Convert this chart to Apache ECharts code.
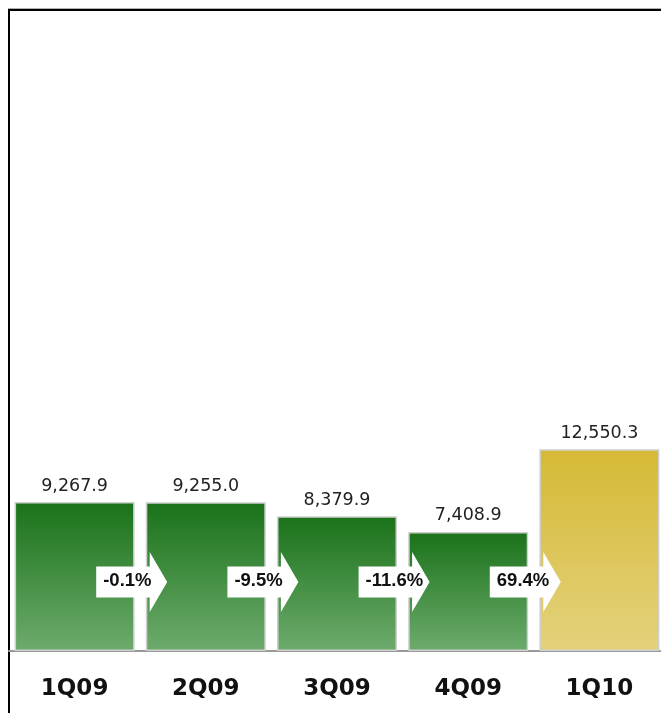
<!DOCTYPE html>
<html>
<head>
<meta charset="utf-8">
<script src="https://cdn.jsdelivr.net/npm/echarts@6/dist/echarts.min.js"></script>
<style>
  html, body { margin: 0; padding: 0; background: #fff; overflow: hidden; }
  .frame {
    position: absolute;
    left: 8px;
    top: 9px;
    width: 661px;
    height: 720px;
    border-left: 2px solid #000;
    border-top: 2px solid #000;
    box-shadow: 0 -1px 0 #b0b0b0;
  }
  #chart {
    position: absolute;
    left: 0;
    top: 0;
    width: 670px;
    height: 713px;
  }
</style>
</head>
<body>
<div class="frame"></div>
<div id="chart"></div>
<script>
// quarters
const categories = ["1Q09", "2Q09", "3Q09", "4Q09", "1Q10"];
// revenue per quarter
const values = [9267.9, 9255.0, 8379.9, 7408.9, 12550.3];
// quarter-over-quarter change, %
const changes = [-0.1, -9.5, -11.6, 69.4];

const GREEN = new echarts.graphic.LinearGradient(0, 0, 0, 1, [
  { offset: 0, color: "#1a7219" },
  { offset: 1, color: "#6dab6d" },
]);
const GOLD = new echarts.graphic.LinearGradient(0, 0, 0, 1, [
  { offset: 0, color: "#d6b935" },
  { offset: 1, color: "#e3d27c" },
]);

function fmt(v) {
  let parts = v.toFixed(1).split(".");
  parts[0] = parts[0].replace(/\B(?=(\d{3})+(?!\d))/g, ",");
  return parts.join(".");
}

const ARROW_LEVEL = 4300; // vertical placement of the change arrows

const myChart = echarts.init(document.getElementById("chart"));

const option = {
  animation: false,
  grid: {
    left: 9,
    right: 5,
    top: 8,
    bottom: 62,
    outerBoundsMode: "none",
  },
  xAxis: {
    type: "category",
    data: categories,
    axisLine: { lineStyle: { color: "#999", width: 2 } },
    axisTick: { show: false },
    axisLabel: {
      margin: 27,
      fontFamily: "DejaVu Sans",
      fontWeight: "bold",
      fontSize: 23,
      color: "#111",
    },
  },
  yAxis: {
    type: "value",
    min: 0,
    max: 40000,
    show: false,
    splitLine: { show: false },
  },
  series: [
    {
      type: "bar",
      barWidth: 120,
      data: values.map((v, i) => ({
        value: v,
        itemStyle: { color: i === values.length - 1 ? GOLD : GREEN },
      })),
      itemStyle: {
        borderColor: "#cfcfcf",
        borderWidth: 1.5,
      },
      label: {
        show: true,
        position: "top",
        distance: 7,
        fontFamily: "DejaVu Sans",
        fontSize: 17.5,
        color: "#222",
        formatter: (p) => fmt(p.value),
      },
      z: 2,
    },
    {
      type: "custom",
      data: changes.map((c, i) => [i, c]),
      z: 5,
      renderItem(params, api) {
        const i = api.value(0);
        const a = api.coord([i, ARROW_LEVEL]);
        const b = api.coord([i + 1, ARROW_LEVEL]);
        const bx = (a[0] + b[0]) / 2;
        const cy = a[1];
        const c = changes[i];
        return {
          type: "group",
          children: [
            {
              type: "polygon",
              shape: {
                points: [
                  [bx - 44, cy - 15.5],
                  [bx + 9.5, cy - 15.5],
                  [bx + 9.5, cy - 30],
                  [bx + 27, cy],
                  [bx + 9.5, cy + 30],
                  [bx + 9.5, cy + 15.5],
                  [bx - 44, cy + 15.5],
                ],
              },
              style: { fill: "#fff" },
            },
            {
              type: "text",
              style: {
                x: bx - 37,
                y: cy - 1,
                text: c.toFixed(1) + "%",
                textAlign: "left",
                textVerticalAlign: "middle",
                fontFamily: "Liberation Sans",
                fontWeight: "bold",
                fontSize: 18.5,
                fill: "#111",
              },
            },
          ],
        };
      },
    },
  ],
};

myChart.setOption(option, true);
</script>
</body>
</html>
